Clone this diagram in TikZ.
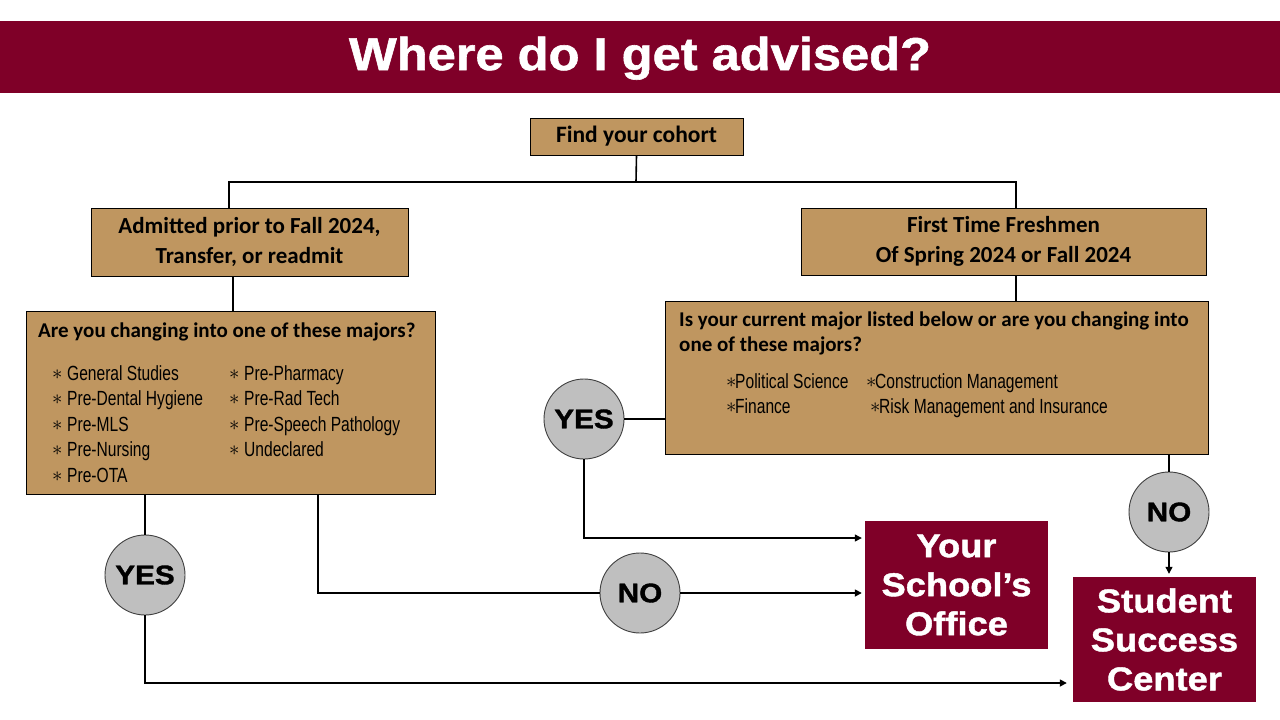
\documentclass[tikz,border=0pt]{standalone}
\usepackage{fontspec}
\setmainfont{Carlito}
\newfontfamily\condfont{Liberation Sans}[FakeStretch=0.76]
\newfontfamily\blackfont{Liberation Sans}[FakeStretch=1.1,FakeBold=1.3]
\usetikzlibrary{arrows.meta,calc}
\definecolor{tanc}{RGB}{191,150,96}
\definecolor{marc}{RGB}{127,0,40}
\definecolor{grayc}{RGB}{191,191,191}
\tikzset{
 tanbox/.style={draw=black, line width=0.9pt, fill=tanc, inner sep=0pt, align=center, text=black},
 marbox/.style={fill=marc, inner sep=0pt, align=center, text=white, font=\blackfont\bfseries\fontsize{33}{39}\selectfont},
 circ/.style={circle, draw=black!75, fill=grayc, line width=0.9pt, minimum size=80pt, inner sep=0pt, font=\blackfont\bfseries\fontsize{27}{30}\selectfont},
 conn/.style={line width=1.6pt},
 arr/.style={conn, -{Triangle[length=7pt,width=7pt]}},
 itemL/.style={anchor=base west, inner sep=0pt, font=\condfont\fontsize{20.5}{24}\selectfont},
 qtext/.style={anchor=base west, inner sep=0pt, font=\bfseries\fontsize{21}{25}\selectfont},
}
\newcommand{\astsp}{\makebox[15pt][l]{\raisebox{1pt}{$\ast$}}}
\newcommand{\astti}{\makebox[9pt][l]{\raisebox{1pt}{$\ast$}}}
\begin{document}
\begin{tikzpicture}[x=1pt,y=-1pt]
\useasboundingbox (0,0) rectangle (1280,720);
\fill[white] (0,0) rectangle (1280,720);
% title bar
\fill[marc] (0,21) rectangle (1280,93);
\node[anchor=base, inner sep=0pt, text=white, font=\blackfont\bfseries\fontsize{46}{50}\selectfont] (title) at (640,70) {Where do I get advised?};
% top boxes
\node[tanbox, minimum width=213pt, minimum height=37pt, font=\bfseries\fontsize{23.5}{28}\selectfont] (cohort) at (636.5,136.5) {\raisebox{-2pt}{Find your cohort}};
\node[tanbox, minimum width=317pt, minimum height=68pt, font=\bfseries\fontsize{23}{29.5}\selectfont] (adm) at (249.5,242) {Admitted prior to Fall 2024,\\Transfer, or readmit};
\node[tanbox, minimum width=405pt, minimum height=67pt, font=\bfseries\fontsize{23}{29.5}\selectfont] (fresh) at (1003.5,241.5) {First Time Freshmen\\Of Spring 2024 or Fall 2024};
\coordinate (split) at (636,182);
% big boxes
\node[tanbox, minimum width=409pt, minimum height=183pt] (lbox) at (230.5,402.5) {};
\node[tanbox, minimum width=543pt, minimum height=153pt] (rbox) at (936.5,377.5) {};
% left box text
\node[qtext] (lq) at (38,337) {Are you changing into one of these majors?};
\foreach \t [count=\i] in {General Studies, Pre-Dental Hygiene, Pre-MLS, Pre-Nursing, Pre-OTA}
  \node[itemL] (la\i) at (52,354.5+25.5*\i) {\astsp\t};
\foreach \t [count=\i] in {Pre-Pharmacy, Pre-Rad Tech, Pre-Speech Pathology, Undeclared}
  \node[itemL] (lb\i) at (229,354.5+25.5*\i) {\astsp\t};
% right box text
\node[qtext] (rq1) at (679,326) {Is your current major listed below or are you changing into};
\node[qtext] (rq2) at (679,351) {one of these majors?};
\node[itemL] (ra1) at (726,388) {\astti Political Science};
\node[itemL] (ra2) at (726,413) {\astti Finance};
\node[itemL] (rb1) at (866,388) {\astti Construction Management};
\node[itemL] (rb2) at (870,413) {\astti Risk Management and Insurance};
% destination boxes
\node[marbox, minimum width=183pt, minimum height=128pt] (office) at (956.5,585) {Your\\School’s\\Office};
\node[marbox, minimum width=183pt, minimum height=125pt] (ssc) at (1164.5,639.5) {Student\\Success\\Center};
% circles
\node[circ] (yesL) at (145,575) {YES};
\node[circ] (noL) at (640,593) {NO};
\node[circ] (yesR) at (584,419) {YES};
\node[circ] (noR) at (1169,512) {NO};
% connectors
\draw[conn] (cohort.south) -- (split);
\draw[conn] (split) -| ([xshift=-20.5pt]adm.north);
\draw[conn] (split) -| ([xshift=12.5pt]fresh.north);
\draw[conn] ([xshift=-16.5pt]adm.south) -- ([xshift=-16.5pt]adm.south |- lbox.north);
\draw[conn] ([xshift=12.5pt]fresh.south) -- ([xshift=12.5pt]fresh.south |- rbox.north);
\draw[conn] (lbox.south -| yesL) -- (yesL.north);
\draw[arr, shorten >=6pt] (yesL.south) |- ([yshift=-43.5pt]ssc.west);
\draw[conn] (lbox.south -| 318,0) |- (noL.west);
\draw[arr, shorten >=3pt] (noL.east) -- (noL.east -| office.west);
\draw[conn] (yesR.east) -- (yesR.east -| rbox.west);
\draw[arr, line width=1.2pt, shorten >=3pt] (yesR.south) |- ([yshift=47pt]office.west);
\draw[conn, line width=1.2pt] (rbox.south -| noR) -- (noR.north);
\draw[arr, line width=1.2pt, shorten >=3pt] (noR.south) -- (noR.south |- ssc.north);
\end{tikzpicture}
\end{document}
